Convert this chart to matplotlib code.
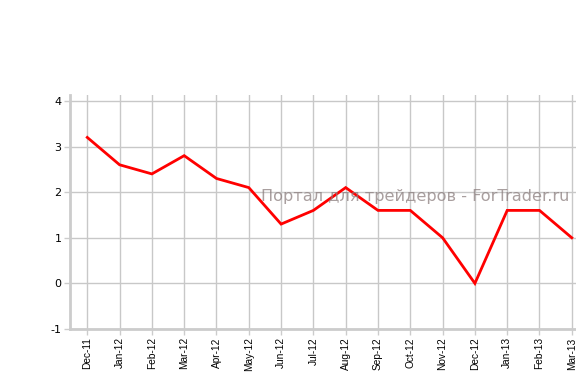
import matplotlib
matplotlib.use("Agg")
import matplotlib.pyplot as plt

months = ["Dec-11", "Jan-12", "Feb-12", "Mar-12", "Apr-12", "May-12", "Jun-12",
          "Jul-12", "Aug-12", "Sep-12", "Oct-12", "Nov-12", "Dec-12", "Jan-13",
          "Feb-13", "Mar-13"]
values = [3.2, 2.6, 2.4, 2.8, 2.3, 2.1, 1.3, 1.6, 2.1, 1.6, 1.6, 1.0, 0.0, 1.6, 1.6, 1.0]
yticks = [-1, 0, 1, 2, 3, 4]
watermark = "Портал для трейдеров - ForTrader.ru"

W, H = 576, 373
fig = plt.figure(figsize=(W / 100, H / 100), dpi=100)
left, right, top, bottom = 70, 576, 95, 329
ax = fig.add_axes([left / W, 1 - bottom / H, (right - left) / W, (bottom - top) / H])

x = list(range(len(months)))
ax.plot(x, values, color="#ff0000", lw=2.0, zorder=3, solid_joinstyle="miter")

ax.set_xlim(-0.535, 15.13)
ax.set_ylim(-1, 4.13)
ax.set_xticks(x)
ax.set_xticklabels(months, rotation=90, fontsize=7.3, color="#000000",
                   family="Liberation Sans")
ax.set_yticks(yticks)
ax.set_yticklabels([str(v) for v in yticks], fontsize=8, color="#000000")

ax.grid(True, color="#c8c8c8", lw=1.0, zorder=0)
ax.set_axisbelow(True)
for s in ["top", "right"]:
    ax.spines[s].set_visible(False)
for s in ["left", "bottom"]:
    ax.spines[s].set_color("#cccccc")
    ax.spines[s].set_linewidth(2.0)
ax.tick_params(axis="both", color="#cccccc", length=4, width=1)
ax.tick_params(axis="x", pad=2)
ax.tick_params(axis="y", pad=2)

ax.text(415 / W, 1 - 197 / H, watermark, transform=fig.transFigure,
        ha="center", va="center", fontsize=11.6, color="#8c7f7f", alpha=0.75, zorder=5)

fig.savefig("out.png", dpi=100)
